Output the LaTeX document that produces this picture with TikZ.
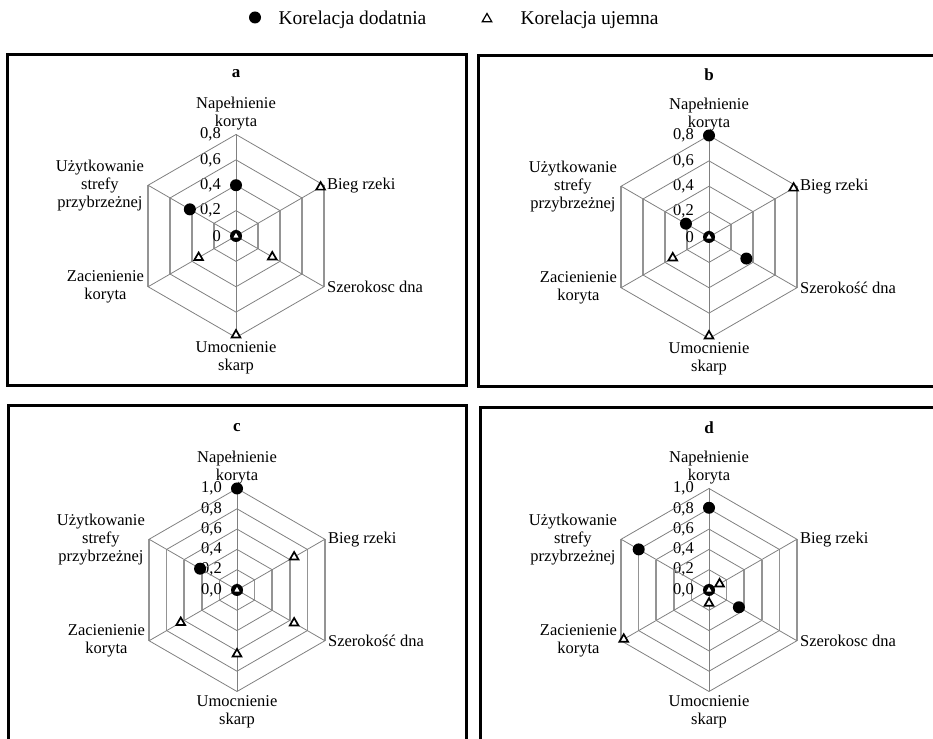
\documentclass[tikz,border=0pt]{standalone}
\usepackage{fontspec}
\setmainfont{Liberation Serif}
\usetikzlibrary{shapes.geometric}

\begin{document}
\begin{tikzpicture}[x=1pt,y=1pt,
		ramka/.style={draw=black,line width=3pt},
		siatka/.style={draw=black!50,line width=0.8pt},
		pion/.style={draw=black!42,line width=1.6pt},
		opis/.style={font=\fontsize{16.5}{18}\selectfont,align=center,inner sep=1pt},
		skala/.style={font=\fontsize{16.5}{18}\selectfont,anchor=east,inner sep=0pt},
		tytul/.style={font=\fontsize{17}{18}\selectfont\bfseries},
		dodatnia/.style={circle,fill=black,minimum size=12pt,inner sep=0pt},
		ujemna/.style={regular polygon,regular polygon sides=3,draw=black,fill=white,
			line width=1.7pt,minimum size=10pt,inner sep=0pt}]
	\def\R{101.5}
	\useasboundingbox (0,0) rectangle (933,738);
	% legenda
	\node[dodatnia](lg1)at(255,720.5){};
	\node[anchor=base west,font=\fontsize{19.5}{20}\selectfont](lt1)at(275,713){Korelacja dodatnia};
	\node[ujemna,minimum size=11pt,line width=1.2pt](lg2)at(487,719){};
	\node[anchor=base west,font=\fontsize{19.5}{20}\selectfont](lt2)at(517,713){Korelacja ujemna};
	% ramki
	\draw[ramka](7,683)rectangle(466,352);
	\draw[ramka](478,682)rectangle(945,351);
	\draw[ramka](8,332)rectangle(466,-10);
	\draw[ramka](480,330)rectangle(945,-10);
	% a
	\begin{scope}[shift={(236,502)}]
		\coordinate(a-0)at(0,0);
		\foreach\ang/\n in{90/1,30/2,-30/3,-90/4,-150/5,150/6}
			\coordinate(a-\n)at(\ang:\R);
		\foreach\k/\t in{1/{0,2},2/{0,4},3/{0,6},4/{0,8}}{
			\pgfmathsetmacro\r{\k*\R/4}
			\draw[siatka](90:\r)--(30:\r)(-30:\r)--(-90:\r)--(-150:\r)(150:\r)--(90:\r);
			\draw[pion](30:\r)--(-30:\r)(-150:\r)--(150:\r);
			\node[skala](a-s\k)at(-15,\r){\t};
		}
		\node[skala](a-s0)at(-15,0){0};
		\foreach\n in{1,...,6}\draw[siatka](a-0)--(a-\n);
		\node[tytul](a-t)at(0,162){a};
		\node[opis,anchor=south](a-l1)at([yshift=3pt]a-1){Napełnienie\\koryta};
		\node[opis,anchor=west](a-l2)at([xshift=2pt]a-2){Bieg rzeki};
		\node[opis,anchor=west](a-l3)at([xshift=2pt]a-3){Szerokosc dna};
		\node[opis,anchor=north](a-l4)at([yshift=-3pt]a-4){Umocnienie\\skarp};
		\node[opis,anchor=east](a-l5)at([xshift=-3pt]a-5){Zacienienie\\koryta};
		\node[opis,anchor=east](a-l6)at([xshift=-3pt]a-6){Użytkowanie\\strefy\\przybrzeżnej};
		\foreach\ang/\v[count=\i]in{90/0.40,150/0.42,0/0}
			\node[dodatnia](a-d\i)at(\ang:{\v/0.8*\R}){};
		\foreach\ang/\v[count=\i]in{30/0.77,-30/0.33,-90/0.78,-150/0.34,0/0}
			\node[ujemna](a-u\i)at(\ang:{\v/0.8*\R}){};
	\end{scope}
	% b
	\begin{scope}[shift={(709,501)}]
		\coordinate(b-0)at(0,0);
		\foreach\ang/\n in{90/1,30/2,-30/3,-90/4,-150/5,150/6}
			\coordinate(b-\n)at(\ang:\R);
		\foreach\k/\t in{1/{0,2},2/{0,4},3/{0,6},4/{0,8}}{
			\pgfmathsetmacro\r{\k*\R/4}
			\draw[siatka](90:\r)--(30:\r)(-30:\r)--(-90:\r)--(-150:\r)(150:\r)--(90:\r);
			\draw[pion](30:\r)--(-30:\r)(-150:\r)--(150:\r);
			\node[skala](b-s\k)at(-15,\r){\t};
		}
		\node[skala](b-s0)at(-15,0){0};
		\foreach\n in{1,...,6}\draw[siatka](b-0)--(b-\n);
		\node[tytul](b-t)at(0,162){b};
		\node[opis,anchor=south](b-l1)at([yshift=3pt]b-1){Napełnienie\\koryta};
		\node[opis,anchor=west](b-l2)at([xshift=2pt]b-2){Bieg rzeki};
		\node[opis,anchor=west](b-l3)at([xshift=2pt]b-3){Szerokość dna};
		\node[opis,anchor=north](b-l4)at([yshift=-3pt]b-4){Umocnienie\\skarp};
		\node[opis,anchor=east](b-l5)at([xshift=-3pt]b-5){Zacienienie\\koryta};
		\node[opis,anchor=east](b-l6)at([xshift=-3pt]b-6){Użytkowanie\\strefy\\przybrzeżnej};
		\foreach\ang/\v[count=\i]in{90/0.80,-30/0.34,150/0.21,0/0}
			\node[dodatnia](b-d\i)at(\ang:{\v/0.8*\R}){};
		\foreach\ang/\v[count=\i]in{30/0.77,-90/0.78,-150/0.33,0/0}
			\node[ujemna](b-u\i)at(\ang:{\v/0.8*\R}){};
	\end{scope}
	% c
	\begin{scope}[shift={(237,148)}]
		\coordinate(c-0)at(0,0);
		\foreach\ang/\n in{90/1,30/2,-30/3,-90/4,-150/5,150/6}
			\coordinate(c-\n)at(\ang:\R);
		\foreach\k/\t in{1/{0,2},2/{0,4},3/{0,6},4/{0,8},5/{1,0}}{
			\pgfmathsetmacro\r{\k*\R/5}
			\draw[siatka](90:\r)--(30:\r)(-30:\r)--(-90:\r)--(-150:\r)(150:\r)--(90:\r);
			\draw[pion](30:\r)--(-30:\r)(-150:\r)--(150:\r);
			\node[skala](c-s\k)at(-15,\r){\t};
		}
		\node[skala](c-s0)at(-15,0){0,0};
		\foreach\n in{1,...,6}\draw[siatka](c-0)--(c-\n);
		\node[tytul](c-t)at(0,162){c};
		\node[opis,anchor=south](c-l1)at([yshift=3pt]c-1){Napełnienie\\koryta};
		\node[opis,anchor=west](c-l2)at([xshift=2pt]c-2){Bieg rzeki};
		\node[opis,anchor=west](c-l3)at([xshift=2pt]c-3){Szerokość dna};
		\node[opis,anchor=north](c-l4)at([yshift=-3pt]c-4){Umocnienie\\skarp};
		\node[opis,anchor=east](c-l5)at([xshift=-3pt]c-5){Zacienienie\\koryta};
		\node[opis,anchor=east](c-l6)at([xshift=-3pt]c-6){Użytkowanie\\strefy\\przybrzeżnej};
		\foreach\ang/\v[count=\i]in{90/1.0,150/0.42,0/0}
			\node[dodatnia](c-d\i)at(\ang:{\v*\R}){};
		\foreach\ang/\v[count=\i]in{30/0.65,-30/0.65,-90/0.63,-150/0.64,0/0}
			\node[ujemna](c-u\i)at(\ang:{\v*\R}){};
	\end{scope}
	% d
	\begin{scope}[shift={(709,148)}]
		\coordinate(d-0)at(0,0);
		\foreach\ang/\n in{90/1,30/2,-30/3,-90/4,-150/5,150/6}
			\coordinate(d-\n)at(\ang:\R);
		\foreach\k/\t in{1/{0,2},2/{0,4},3/{0,6},4/{0,8},5/{1,0}}{
			\pgfmathsetmacro\r{\k*\R/5}
			\draw[siatka](90:\r)--(30:\r)(-30:\r)--(-90:\r)--(-150:\r)(150:\r)--(90:\r);
			\draw[pion](30:\r)--(-30:\r)(-150:\r)--(150:\r);
			\node[skala](d-s\k)at(-15,\r){\t};
		}
		\node[skala](d-s0)at(-15,0){0,0};
		\foreach\n in{1,...,6}\draw[siatka](d-0)--(d-\n);
		\node[tytul](d-t)at(0,162){d};
		\node[opis,anchor=south](d-l1)at([yshift=3pt]d-1){Napełnienie\\koryta};
		\node[opis,anchor=west](d-l2)at([xshift=2pt]d-2){Bieg rzeki};
		\node[opis,anchor=west](d-l3)at([xshift=2pt]d-3){Szerokosc dna};
		\node[opis,anchor=north](d-l4)at([yshift=-3pt]d-4){Umocnienie\\skarp};
		\node[opis,anchor=east](d-l5)at([xshift=-3pt]d-5){Zacienienie\\koryta};
		\node[opis,anchor=east](d-l6)at([xshift=-3pt]d-6){Użytkowanie\\strefy\\przybrzeżnej};
		\foreach\ang/\v[count=\i]in{90/0.81,-30/0.34,150/0.80,0/0}
			\node[dodatnia](d-d\i)at(\ang:{\v*\R}){};
		\foreach\ang/\v[count=\i]in{30/0.12,-90/0.13,-150/0.97,0/0}
			\node[ujemna](d-u\i)at(\ang:{\v*\R}){};
	\end{scope}
\end{tikzpicture}
\end{document}
